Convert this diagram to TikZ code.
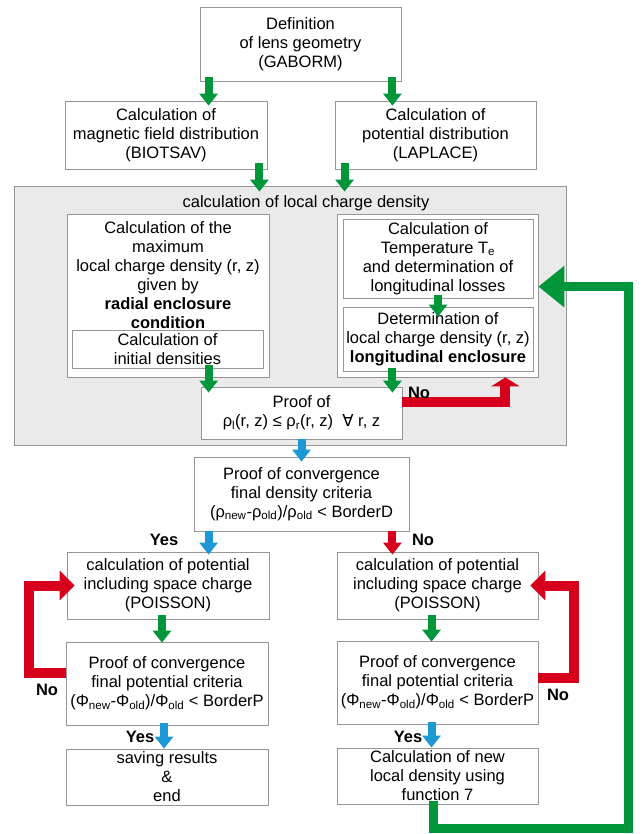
\documentclass[tikz,border=0pt]{standalone}
\usepackage{fontspec}
\setmainfont{Liberation Sans}
\newfontfamily\symfont{DejaVu Sans}
\usepackage[]{xcolor}
\usepackage[]{tikz}
\usetikzlibrary{arrows.meta}
\definecolor{flowgreen}{RGB}{0,150,57}
\definecolor{flowred}{RGB}{214,0,28}
\definecolor{flowblue}{RGB}{28,152,214}
\definecolor{boxgray}{RGB}{150,150,150}
\definecolor{areagray}{RGB}{234,234,234}
\tikzset{box/.style={draw=boxgray,fill=white,line width=0.8pt,align=center,inner sep=0pt,font=\fontsize{16.5}{19}\selectfont},
  txt/.style={align=center,inner sep=0pt,font=\fontsize{16.5}{19}\selectfont},
  lab/.style={inner sep=0pt,font=\fontsize{16.5}{19}\selectfont\bfseries},
  garrow/.style={draw=flowgreen,line width=8pt,-{Triangle[width=18pt,length=12pt]}},
  barrow/.style={draw=flowblue,line width=8pt,-{Triangle[width=18pt,length=12pt]}},
  rarrow/.style={draw=flowred,line width=8pt,-{Triangle[width=18pt,length=12pt]}},
  redloop/.style={draw=flowred,line width=10pt,line join=miter,-{Triangle[width=29pt,length=15pt]}},
  returnarrow/.style={draw=flowgreen,line width=9pt,line join=miter,-{Triangle[width=40pt,length=26pt]}}}

\begin{document}
\begin{tikzpicture}[x=1pt,y=-1pt] % 像素坐标, y 向下
  \useasboundingbox (0,0) rectangle (644,834);
  \node[box,minimum width=201,minimum height=74] (def) at (300.5,44) {Definition\\of lens geometry\\(GABORM)};
  \node[box,minimum width=202,minimum height=68] (mag) at (166,135) {Calculation of\\magnetic field distribution\\(BIOTSAV)};
  \node[box,minimum width=201,minimum height=68] (pot) at (435.5,135) {Calculation of\\potential distribution\\(LAPLACE)};
  % 灰色区域
  \node[draw=boxgray,fill=areagray,line width=0.8pt,minimum width=552,minimum height=259] (chargebox) at (290,315.5) {};
  \node[txt] (chargetitle) at (306,203) {calculation of local charge density};
  \node[box,minimum width=202,minimum height=163] (maxbox) at (168,295.5) {};
  \node[txt] (maxtxt) at (168,275.5) {Calculation of the\\maximum\\local charge density (r, z)\\given by\\\textbf{radial enclosure}\\\textbf{condition}};
  \node[box,minimum width=191,minimum height=38] (initbox) at (167.5,349) {Calculation of\\initial densities};
  \node[box,minimum width=201,minimum height=163] (rbox) at (437.5,295.5) {};
  \node[box,minimum width=190,minimum height=79] (tempbox) at (438,258.5) {Calculation of\\Temperature T\textsubscript{e}\\and determination of\\longitudinal losses};
  \node[box,minimum width=190,minimum height=64] (densbox) at (438,339) {Determination of\\local charge density (r, z)\\\textbf{longitudinal enclosure}};
  \node[box,minimum width=201,minimum height=52] (proof) at (301.5,413) {Proof of\\ρ\textsubscript{l}(r, z) ≤ ρ\textsubscript{r}(r, z)\ \ {\symfont ∀} r, z};
  % 收敛判断
  \node[box,minimum width=215,minimum height=74] (conv) at (301.5,494) {Proof of convergence\\final density criteria\\(ρ\textsubscript{new}-ρ\textsubscript{old})/ρ\textsubscript{old} < BorderD};
  \node[box,minimum width=202,minimum height=67] (lpois) at (168,585.5) {calculation of potential\\including space charge\\(POISSON)};
  \node[box,minimum width=201,minimum height=67] (rpois) at (437.5,585.5) {calculation of potential\\including space charge\\(POISSON)};
  \node[box,minimum width=202,minimum height=83] (lproof) at (167,683.5) {Proof of convergence\\final potential criteria\\(Φ\textsubscript{new}-Φ\textsubscript{old})/Φ\textsubscript{old} < BorderP};
  \node[box,minimum width=201,minimum height=83] (rproof) at (437.5,682.5) {Proof of convergence\\final potential criteria\\(Φ\textsubscript{new}-Φ\textsubscript{old})/Φ\textsubscript{old} < BorderP};
  \node[box,minimum width=202,minimum height=56] (save) at (167,777) {saving results\\\&\\end};
  \node[box,minimum width=201,minimum height=56] (newdens) at (437.5,776) {Calculation of new\\local density using\\function 7};
  % 箭头
  \draw[garrow,shorten <=-4pt,shorten >=-5pt] ([xshift=9pt]def.south west) -- ([xshift=9pt]def.south west |- mag.north);
  \draw[garrow,shorten <=-4pt,shorten >=-5pt] ([xshift=-9pt]def.south east) -- ([xshift=-9pt]def.south east |- pot.north);
  \draw[garrow,shorten <=-6pt,shorten >=-6pt] ([xshift=-8pt]mag.south east) -- ([xshift=-8pt]mag.south east |- chargebox.north);
  \draw[garrow,shorten <=-6pt,shorten >=-6pt] ([xshift=10pt]pot.south west) -- ([xshift=10pt]pot.south west |- chargebox.north);
  \draw[garrow,shorten <=-3pt,shorten >=-10pt] (tempbox.south) -- (densbox.north);
  \draw[garrow,shorten <=-3pt,shorten >=-6pt] ([xshift=8pt]proof.north west |- initbox.south) -- ([xshift=8pt]proof.north west);
  \draw[garrow,shorten <=-3pt,shorten >=-6pt] ([xshift=-10pt]proof.north east |- densbox.south) -- ([xshift=-10pt]proof.north east);
  \draw[draw=flowred,line width=10pt,line join=miter,-{Triangle[width=28pt,length=9pt]}] ([yshift=-15pt]proof.north east) -| ([xshift=-33pt]rbox.south east);
  \node[lab] (noA) at (419,393) {No};
  \draw[barrow,shorten >=-5pt] (proof.south) -- (conv.north);
  \draw[barrow,shorten >=-3pt] ([xshift=15pt]conv.south west) -- ([xshift=15pt]conv.south west |- lpois.north);
  \draw[rarrow,shorten >=-3pt] ([xshift=-17pt]conv.south east) -- ([xshift=-17pt]conv.south east |- rpois.north);
  \node[lab] (yesA) at (164,540) {Yes};
  \node[lab] (noB) at (423,540) {No};
  \draw[garrow,shorten <=-4pt,shorten >=-1pt] ([xshift=-6pt]lpois.south) -- ([xshift=-6pt]lpois.south |- lproof.north);
  \draw[garrow,shorten <=-4pt,shorten >=-1pt] ([xshift=-6pt]rpois.south) -- ([xshift=-6pt]rpois.south |- rproof.north);
  \draw[redloop,shorten >=-8pt] ([yshift=-31pt]lproof.north west) -- ++(-37,0) |- (lpois.west);
  \draw[redloop,shorten >=-8pt] ([yshift=-37pt]rproof.north east) -- ++(36,0) |- (rpois.east);
  \node[lab] (noC) at (47,690) {No};
  \node[lab] (noD) at (558,695) {No};
  \draw[barrow,shorten <=-2pt] ([xshift=-3pt]lproof.south) -- ([xshift=-3pt]lproof.south |- save.north);
  \draw[barrow,shorten <=-2pt] ([xshift=-6pt]rproof.south) -- ([xshift=-6pt]rproof.south |- newdens.north);
  \node[lab] (yesB) at (140,737) {Yes};
  \node[lab] (yesC) at (408,737) {Yes};
  % 回到局部密度
  \coordinate (backcorner) at (628,828);
  \draw[returnarrow,shorten <=-3pt] ([xshift=-4pt]newdens.south) |- (backcorner) |- ([yshift=-73pt]rbox.north east);
\end{tikzpicture}
\end{document}
